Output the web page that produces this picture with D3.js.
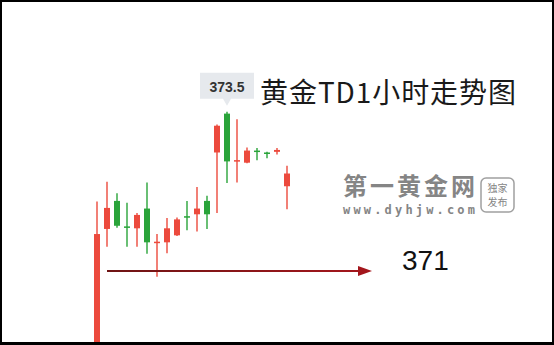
<!DOCTYPE html>
<html>
<head>
<meta charset="utf-8">
<script src="https://cdn.jsdelivr.net/npm/d3@7"></script>
<style>
  body { margin: 0; background: #fff; }
  svg { display: block; }
</style>
</head>
<body>
<script>
// 1小时K线 (开/高/低/收)
var opens  = [369.60, 371.66, 372.10, 371.70, 371.67, 371.98, 371.44, 371.45, 371.56, 371.86,
              371.89, 372.10, 372.86, 373.47, 372.73, 372.70, 372.89, 372.86, 372.87, 372.33];
var highs  = [372.09, 372.40, 372.22, 372.07, 371.91, 372.39, 371.58, 371.83, 371.84, 372.10,
              372.32, 372.18, 373.30, 373.50, 373.38, 372.94, 372.93, 372.87, 372.93, 372.65];
var lows   = [369.40, 371.38, 371.68, 371.38, 371.38, 371.27, 370.91, 371.28, 371.55, 371.64,
              371.62, 371.66, 371.91, 372.38, 372.39, 372.69, 372.74, 372.77, 372.83, 371.97];
var closes = [371.58, 371.99, 371.71, 371.69, 371.88, 371.45, 371.46, 371.67, 371.81, 371.84,
              371.98, 371.89, 373.28, 372.72, 372.74, 372.89, 372.88, 372.85, 372.90, 372.53];
var peak = 373.5;      // 最高点提示
var support = 371;     // 支撑位
var title = '黄金TD1小时走势图';

var W = 554, H = 345;
var svg = d3.select('body').append('svg')
    .attr('width', W)
    .attr('height', H);

// 边框
svg.append('rect').attr('width', W).attr('height', H).attr('fill', '#000');
svg.append('rect').attr('x', 2).attr('y', 2).attr('width', W - 4).attr('height', H - 5).attr('fill', '#fff');

svg.append('defs').append('clipPath').attr('id', 'clip')
  .append('rect').attr('x', 2).attr('y', 2).attr('width', W - 4).attr('height', H - 5);

var x = d3.scaleLinear().domain([0, opens.length - 1]).range([97, 287]);
var y = d3.scaleLinear().domain([support, peak]).range([271, 111.7]);

var red = '#ec4a3d', green = '#2aa43a';
var data = opens.map(function(o, i) {
  return {i: i, o: o, h: highs[i], l: lows[i], c: closes[i]};
});

// 水印
var wm = svg.append('g').attr('fill', '#858585');
wm.append('text').attr('x', 343).attr('y', 195)
  .attr('font-family', 'Noto Sans CJK SC').attr('font-weight', 'bold')
  .attr('font-size', 24).attr('textLength', 132).text('第一黄金网');
wm.append('text').attr('x', 343).attr('y', 214)
  .attr('font-family', 'DejaVu Sans Mono').attr('font-weight', 'bold')
  .attr('font-size', 12).attr('textLength', 132).text('www.dyhjw.com');
wm.append('rect').attr('x', 481).attr('y', 178).attr('width', 33).attr('height', 34).attr('rx', 5)
  .attr('fill', 'none').attr('stroke', '#a0a0a0').attr('stroke-width', 1.5);
wm.append('text').attr('x', 497.5).attr('y', 192).attr('text-anchor', 'middle')
  .attr('font-family', 'Noto Sans CJK SC').attr('font-size', 10).text('独家');
wm.append('text').attr('x', 497.5).attr('y', 206).attr('text-anchor', 'middle')
  .attr('font-family', 'Noto Sans CJK SC').attr('font-size', 10).text('发布');

// K线
var g = svg.append('g').attr('clip-path', 'url(#clip)');
var k = g.selectAll('g.k').data(data).enter().append('g').attr('class', 'k');
k.append('line')
  .attr('x1', function(d) { return x(d.i); })
  .attr('x2', function(d) { return x(d.i); })
  .attr('y1', function(d) { return y(d.h); })
  .attr('y2', function(d) { return y(d.l); })
  .attr('stroke', function(d) { return d.c >= d.o ? red : green; })
  .attr('stroke-width', 1.4);
k.append('rect')
  .attr('x', function(d) { return x(d.i) - 3; })
  .attr('width', 6)
  .attr('y', function(d) { return y(Math.max(d.o, d.c)); })
  .attr('height', function(d) { return Math.max(1.5, Math.abs(y(d.o) - y(d.c))); })
  .attr('fill', function(d) { return d.c >= d.o ? red : green; });

// 支撑线箭头
var grad = svg.select('defs').append('linearGradient').attr('id', 'ag');
grad.append('stop').attr('offset', '0%').attr('stop-color', '#6e1414');
grad.append('stop').attr('offset', '100%').attr('stop-color', '#a3161c');
var ya = y(support), x0 = x(1), x1 = x(27.5);
svg.append('rect').attr('x', x0).attr('y', ya - 1).attr('width', x1 - 12 - x0).attr('height', 2)
  .attr('fill', 'url(#ag)');
svg.append('path')
  .attr('d', 'M' + (x1 - 14) + ',' + (ya - 5) + 'L' + x1 + ',' + ya + 'L' + (x1 - 14) + ',' + (ya + 5) + 'Z')
  .attr('fill', '#a3161c');
svg.append('text').attr('x', 402).attr('y', 270)
  .attr('font-family', 'Liberation Sans').attr('font-size', 28).attr('fill', '#111')
  .text(String(support));

// 最高价提示框
var tx = x(13), ty = y(peak);
svg.append('path')
  .attr('d', 'M' + (tx - 27) + ',' + (ty - 39) + 'h54v26h-23l-4,7l-4,-7h-23z')
  .attr('fill', '#e6e9ed');
svg.append('text').attr('x', tx).attr('y', ty - 20).attr('text-anchor', 'middle')
  .attr('font-family', 'Liberation Sans').attr('font-weight', 'bold')
  .attr('font-size', 14).attr('fill', '#333').text(peak.toFixed(1));

// 标题
svg.append('text').attr('x', 260).attr('y', 103)
  .attr('font-family', 'Noto Sans CJK SC').attr('font-size', 28).attr('fill', '#1a1a1a')
  .attr('textLength', 256).text(title);
</script>
</body>
</html>
